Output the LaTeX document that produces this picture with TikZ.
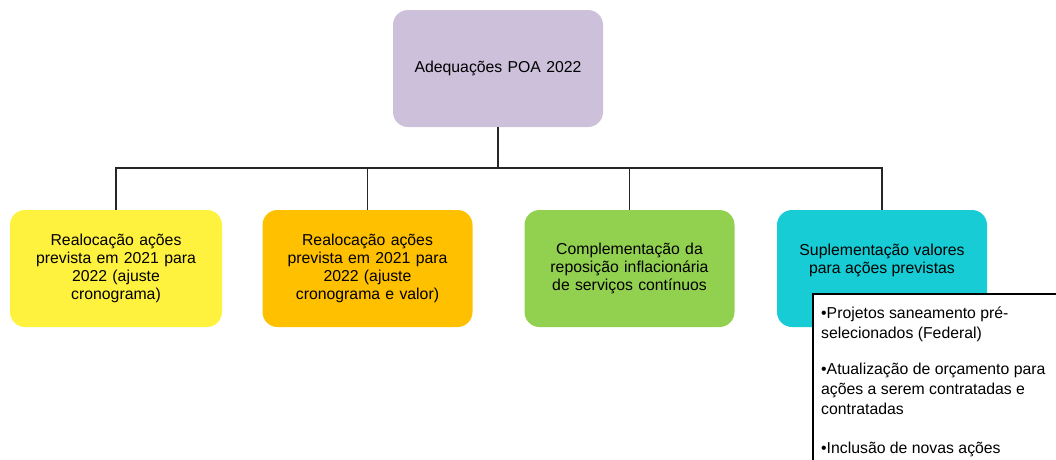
\documentclass[tikz,border=0pt]{standalone}
\usepackage{fontspec}
\setmainfont{Liberation Sans}
\definecolor{cpurple}{HTML}{CCC0DA}
\definecolor{cyellow}{HTML}{FFF23F}
\definecolor{corange}{HTML}{FFC000}
\definecolor{cgreen}{HTML}{92D050}
\definecolor{ccyan}{HTML}{17CCD4}
\tikzset{
  box/.style={rounded corners=15pt, minimum width=210pt, minimum height=117pt, align=center, inner sep=0pt, font=\fontsize{15.8}{18}\selectfont, text width=200pt},
  conn/.style={draw=black!85, line width=1.4pt},
}
\begin{document}
\begin{tikzpicture}[x=1pt,y=-1pt]
\useasboundingbox (0,0) rectangle (1056,459);
\clip (0,0) rectangle (1056,459);
\node[box, fill=cpurple] (top) at (498,68.5) {Adequações POA 2022};
\node[box, fill=cyellow, minimum width=212pt] (b1) at (116,268.5) {Realocação ações\\prevista em 2021 para\\2022 (ajuste\\cronograma)};
\node[box, fill=corange] (b2) at (367.5,268.5) {Realocação ações\\prevista em 2021 para\\2022 (ajuste\\cronograma e valor)};
\node[box, fill=cgreen] (b3) at (629.5,268.5) {Complementação da\\reposição inflacionária\\de serviços contínuos};
\node[box, fill=ccyan] (b4) at (882,268.5) {};
\node[align=center, inner sep=0pt, font=\fontsize{15.8}{18.3}\selectfont] (b4text) at (882,260.5) {Suplementação valores\\para ações previstas};
\coordinate (bus) at (498,168);
\draw[conn] (top.south) -- (bus);
\draw[conn] (b1.north) |- (bus) -| (b4.north);
\draw[conn] (b2.north) -- (b2.north |- bus);
\draw[conn] (b3.north) -- (b3.north |- bus);
\node[draw=black, line width=1.6pt, fill=white, anchor=north west, minimum width=260pt, minimum height=190pt] (list) at (812,293) {};
\node[anchor=north west, align=left, inner sep=0pt, font=\fontsize{15.8}{19.8}\selectfont] (listtext) at (821,306.5) {•Projetos saneamento pré-\\selecionados (Federal)\\[16.5pt]•Atualização de orçamento para\\ações a serem contratadas e\\contratadas\\[19.5pt]•Inclusão de novas ações};
\end{tikzpicture}
\end{document}
